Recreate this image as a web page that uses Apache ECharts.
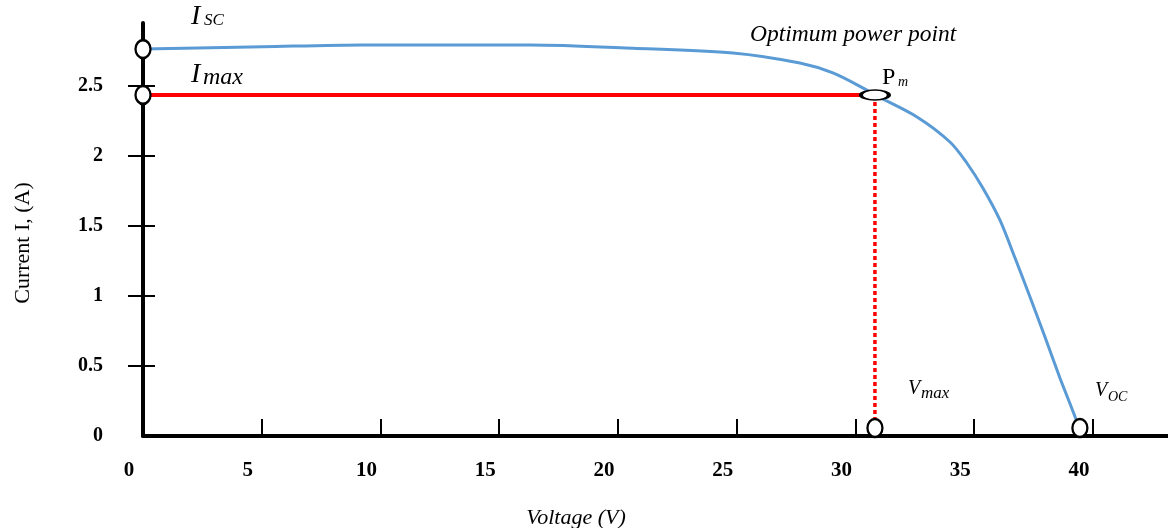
<!DOCTYPE html>
<html>
<head>
<meta charset="utf-8">
<script src="https://cdn.jsdelivr.net/npm/echarts@6/dist/echarts.min.js"></script>
<style>
  html, body { margin: 0; padding: 0; background: #fff; }
  #chart { width: 1168px; height: 528px; }
</style>
</head>
<body>
<div id="chart"></div>
<script>
// I-V curve
var voltage = [0, 5.05, 9.26, 16.3, 20.63, 24.84, 27.66, 29.05, 30.48, 30.82, 32.59, 33.98, 34.69, 35.37, 36.08, 36.72, 37.35, 37.98, 38.61, 39.37, 39.45];
var current = [2.764, 2.78, 2.793, 2.793, 2.77, 2.736, 2.664, 2.593, 2.471, 2.436, 2.279, 2.1, 1.95, 1.77, 1.543, 1.271, 0.993, 0.707, 0.414, 0.079, 0];
var isc = 2.764;
var vmp = 30.82;
var imp = 2.436;
var voc = 39.45;
var xTicks = [5, 10, 15, 20, 25, 30, 35, 40];
var xLabels = [0, 5, 10, 15, 20, 25, 30, 35, 40];
var yTicks = [0.5, 1, 1.5, 2, 2.5];
var yLabels = [0, 0.5, 1, 1.5, 2, 2.5];

var curve = [];
for (var i = 0; i < voltage.length; i++) {
    curve.push([voltage[i], current[i]]);
}

var serif = 'Liberation Serif';
var chart = echarts.init(document.getElementById('chart'));

// main letter + subscript as two texts
function subText(x, y, main, sub, size, subSize, subDx, subDy, italicMain) {
    return [
        {type: 'text', x: x, y: y, style: {
            text: main, font: (italicMain === false ? '' : 'italic ') + size + 'px "' + serif + '"', fill: '#000',
            verticalAlign: 'middle'}},
        {type: 'text', x: x + subDx, y: y + subDy, style: {
            text: sub, font: 'italic ' + subSize + 'px "' + serif + '"', fill: '#000',
            verticalAlign: 'middle'}}
    ];
}

var graphics = [].concat(
    subText(191, 17, 'I', 'SC', 28, 17, 13, 4),
    subText(191, 75, 'I', 'max', 28, 24, 12, 3),
    subText(882, 78, 'P', 'm', 24, 14, 16, 4, false),
    subText(908, 389, 'V', 'max', 20, 17, 13, 5),
    subText(1095, 391, 'V', 'OC', 20, 14, 13, 6),
    [
        {type: 'text', x: 750, y: 35, style: {
            text: 'Optimum power point', font: 'italic 23.5px "' + serif + '"', fill: '#000',
            verticalAlign: 'middle'}},
        {type: 'text', x: 576, y: 518, style: {
            text: 'Voltage (V)', font: 'italic 22px "' + serif + '"', fill: '#000',
            align: 'center', verticalAlign: 'middle'}},
        {type: 'text', x: 23, y: 243, rotation: Math.PI / 2, style: {
            text: 'Current I, (A)', font: '22px "' + serif + '"', fill: '#000',
            align: 'center', verticalAlign: 'middle'}}
    ]
);

var ring = {color: '#fff', borderColor: '#000', borderWidth: 2.5, opacity: 1};

var option = {
    animation: false,
    textStyle: {fontFamily: serif},
    grid: {left: 143, right: 0, top: 23, bottom: 92},
    xAxis: {
        type: 'value',
        min: 0,
        max: 43.16,
        splitLine: {show: false},
        axisLine: {lineStyle: {color: '#000', width: 4}},
        axisTick: {
            inside: true,
            length: 17,
            customValues: xTicks,
            lineStyle: {color: '#000', width: 2}
        },
        axisLabel: {
            customValues: xLabels,
            color: '#000',
            fontSize: 21,
            fontWeight: 'bold',
            margin: 24,
            padding: [0, 28, 0, 0]
        }
    },
    yAxis: [
        {
            type: 'value',
            min: 0,
            max: 2.95,
            splitLine: {show: false},
            axisLine: {show: true, lineStyle: {color: '#000', width: 4}},
            axisTick: {
                show: true,
                length: 15,
                customValues: yTicks,
                lineStyle: {color: '#000', width: 2}
            },
            axisLabel: {
                customValues: yLabels,
                color: '#000',
                fontSize: 20,
                fontWeight: 'bold',
                margin: 40
            }
        },
        {
            type: 'value',
            position: 'left',
            min: 0,
            max: 2.95,
            splitLine: {show: false},
            axisLine: {show: false},
            axisLabel: {show: false},
            axisTick: {
                show: true,
                inside: true,
                length: 12,
                customValues: yTicks,
                lineStyle: {color: '#000', width: 2}
            }
        }
    ],
    series: [
        {
            type: 'line',
            data: [[0, imp], [vmp, imp]],
            symbol: 'none',
            clip: false,
            z: 3,
            lineStyle: {color: '#ff0000', width: 4}
        },
        {
            type: 'line',
            data: [[vmp, imp], [vmp, 0]],
            symbol: 'none',
            clip: false,
            z: 3,
            lineStyle: {color: '#ff0000', width: 3.5, type: [4, 3]}
        },
        {
            type: 'line',
            data: curve,
            symbol: 'none',
            smooth: 0.3,
            clip: false,
            z: 4,
            lineStyle: {color: '#5b9bd5', width: 3}
        },
        {
            type: 'scatter',
            data: [[0, isc], [0, imp]],
            symbol: 'circle',
            symbolSize: [15, 18],
            clip: false,
            z: 10,
            itemStyle: ring
        },
        {
            type: 'scatter',
            data: [[vmp, imp]],
            symbol: 'circle',
            symbolSize: [28, 10],
            clip: false,
            z: 10,
            itemStyle: ring
        },
        {
            type: 'scatter',
            data: [[vmp, 0], [voc, 0]],
            symbol: 'circle',
            symbolSize: [15, 18],
            symbolOffset: [0, -8],
            clip: false,
            z: 10,
            itemStyle: ring
        }
    ],
    graphic: graphics
};
chart.setOption(option);
</script>
</body>
</html>
